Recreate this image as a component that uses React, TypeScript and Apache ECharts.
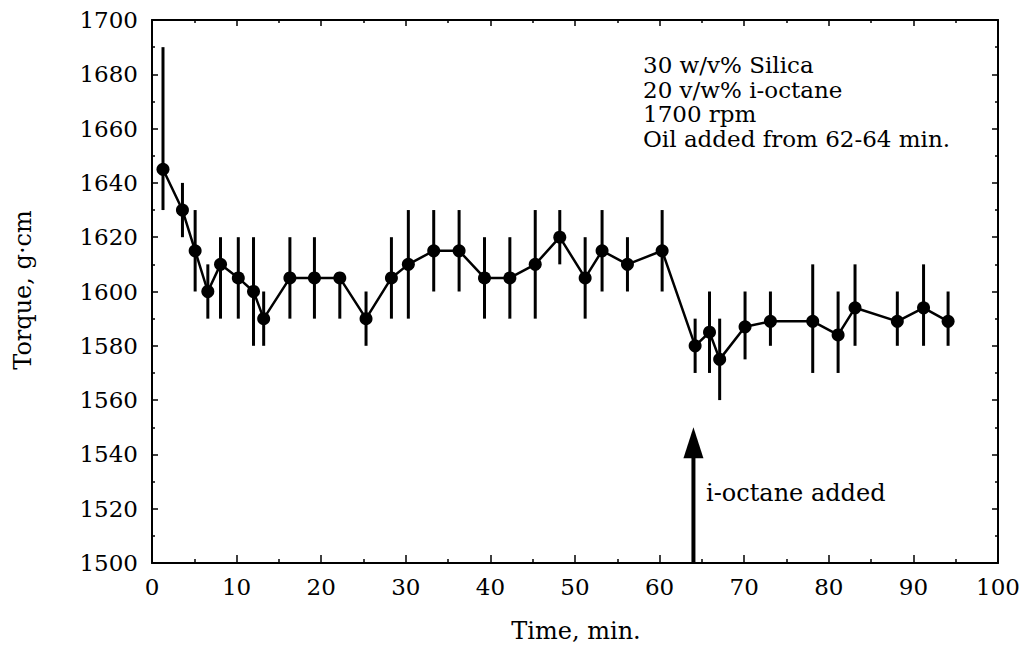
import React, { useEffect, useRef } from "react";
import * as echarts from "echarts";

// Time (min) of each measurement
const times = [1.3, 3.6, 5.1, 6.6, 8.1, 10.2, 12.0, 13.2, 16.3, 19.2, 22.2, 25.3, 28.3, 30.3, 33.3, 36.3, 39.3, 42.3, 45.3, 48.2, 51.2, 53.2, 56.2, 60.3, 64.2, 65.9, 67.1, 70.1, 73.1, 78.1, 81.1, 83.1, 88.1, 91.2, 94.1];
// Torque (g·cm)
const torque = [1645, 1630, 1615, 1600, 1610, 1605, 1600, 1590, 1605, 1605, 1605, 1590, 1605, 1610, 1615, 1615, 1605, 1605, 1610, 1620, 1605, 1615, 1610, 1615, 1580, 1585, 1575, 1587, 1589, 1589, 1584, 1594, 1589, 1594, 1589];
// Error bar lower / upper ends
const errLow = [1630, 1620, 1600, 1590, 1590, 1590, 1580, 1580, 1590, 1590, 1590, 1580, 1590, 1590, 1600, 1600, 1590, 1590, 1590, 1610, 1590, 1600, 1600, 1600, 1570, 1570, 1560, 1575, 1580, 1570, 1570, 1580, 1580, 1580, 1580];
const errHigh = [1690, 1640, 1630, 1610, 1620, 1620, 1620, 1600, 1620, 1620, 1605, 1600, 1620, 1630, 1630, 1630, 1620, 1620, 1630, 1630, 1620, 1630, 1620, 1630, 1590, 1600, 1590, 1600, 1600, 1610, 1600, 1610, 1600, 1610, 1600];

// Axis ranges
const X_MIN = 0, X_MAX = 100, X_STEP = 10;
const Y_MIN = 1500, Y_MAX = 1700, Y_STEP = 20;

// Arrow: i-octane added at 64 min
const arrowX = 64;
const arrowFrom = 1500;
const arrowTo = 1550;

const annotationLines = ["30 w/v% Silica", "20 v/w% i-octane", "1700 rpm", "Oil added from 62-64 min."];
const arrowLabel = "i-octane added";
const xTitle = "Time, min.";
const yTitle = "Torque, g\u00B7cm";

const FONT = "DejaVu Serif";

export default function App() {
  const ref = useRef<HTMLDivElement>(null);
  useEffect(() => {
    if (!ref.current) return;
    const chart = echarts.init(ref.current, null, { renderer: "svg" });
    const points = times.map((t, i) => [t, torque[i]]);
    const bars = times.map((t, i) => [t, errLow[i], errHigh[i]]);

    const axisCommon = {
      axisLine: { show: true, onZero: false, lineStyle: { color: "#000", width: 2 } },
      splitLine: { show: false },
      minorSplitLine: { show: false },
    };
    const plain = (v: number) => String(v);

    const option: any = {
      animation: false,
      backgroundColor: "#fff",
      grid: { left: 152, right: 26, top: 20, bottom: 89, containLabel: false },
      xAxis: [
        {
          type: "value", min: X_MIN, max: X_MAX, interval: X_STEP, position: "bottom",
          ...axisCommon,
          axisTick: { show: true, inside: true, length: 8, lineStyle: { color: "#000", width: 1.5 } },
          minorTick: { show: true, splitNumber: 2, length: 4, lineStyle: { color: "#000", width: 1.5 } },
          axisLabel: { show: true, color: "#000", fontFamily: FONT, fontSize: 23, margin: 12, formatter: plain },
        },
        {
          type: "value", min: X_MIN, max: X_MAX, interval: X_STEP, position: "top",
          ...axisCommon,
          axisTick: { show: true, inside: true, length: 6, lineStyle: { color: "#000", width: 1.5 } },
          minorTick: { show: true, splitNumber: 2, length: 3, lineStyle: { color: "#000", width: 1.5 } },
          axisLabel: { show: false },
        },
      ],
      yAxis: [
        {
          type: "value", min: Y_MIN, max: Y_MAX, interval: Y_STEP, position: "left",
          ...axisCommon,
          axisTick: { show: true, inside: true, length: 6, lineStyle: { color: "#000", width: 1.5 } },
          minorTick: { show: true, splitNumber: 2, length: 3, lineStyle: { color: "#000", width: 1.5 } },
          axisLabel: { show: true, color: "#000", fontFamily: FONT, fontSize: 23, margin: 14, formatter: plain },
        },
        {
          type: "value", min: Y_MIN, max: Y_MAX, interval: Y_STEP, position: "right",
          ...axisCommon,
          axisTick: { show: true, inside: true, length: 6, lineStyle: { color: "#000", width: 1.5 } },
          minorTick: { show: true, splitNumber: 2, length: 3, lineStyle: { color: "#000", width: 1.5 } },
          axisLabel: { show: false },
        },
      ],
      series: [
        {
          type: "custom",
          name: "error",
          xAxisIndex: 0,
          yAxisIndex: 0,
          data: bars,
          renderItem: (params: any, api: any) => {
            const p1 = api.coord([api.value(0), api.value(1)]);
            const p2 = api.coord([api.value(0), api.value(2)]);
            return {
              type: "line",
              shape: { x1: p1[0], y1: p1[1], x2: p2[0], y2: p2[1] },
              style: { stroke: "#000", lineWidth: 3 },
            };
          },
          z: 2,
        },
        {
          type: "line",
          name: "torque",
          xAxisIndex: 0,
          yAxisIndex: 0,
          data: points,
          symbol: "circle",
          symbolSize: 13,
          showSymbol: true,
          itemStyle: { color: "#000" },
          lineStyle: { color: "#000", width: 2.5 },
          z: 3,
        },
        {
          type: "custom",
          name: "arrow",
          xAxisIndex: 0,
          yAxisIndex: 0,
          clip: false,
          data: [[arrowX, arrowFrom, arrowTo]],
          renderItem: (params: any, api: any) => {
            const b = api.coord([api.value(0), api.value(1)]);
            const t = api.coord([api.value(0), api.value(2)]);
            const headLen = 31;
            const headHalf = 10;
            return {
              type: "group",
              children: [
                {
                  type: "line",
                  shape: { x1: b[0], y1: b[1], x2: t[0], y2: t[1] + headLen - 2 },
                  style: { stroke: "#000", lineWidth: 4 },
                },
                {
                  type: "polygon",
                  shape: { points: [[t[0], t[1]], [t[0] - headHalf, t[1] + headLen], [t[0] + headHalf, t[1] + headLen]] },
                  style: { fill: "#000" },
                },
              ],
            };
          },
          z: 4,
        },
      ],
      graphic: annotationLines.map((line, i) => ({
        type: "text",
        x: 643,
        y: 65 + i * 24.5,
        style: {
          text: line,
          fill: "#000",
          font: `23px "${FONT}"`,
          align: "left",
          verticalAlign: "middle",
        },
      })).concat([
        {
          type: "text",
          x: 706,
          y: 493,
          style: {
            text: arrowLabel,
            fill: "#000",
            font: `24px "${FONT}"`,
            align: "left",
            verticalAlign: "middle",
          },
        } as any,
        {
          type: "text",
          x: 576,
          y: 631,
          style: {
            text: xTitle,
            fill: "#000",
            font: `24px "${FONT}"`,
            align: "center",
            verticalAlign: "middle",
          },
        } as any,
        {
          type: "text",
          x: 23,
          y: 290,
          rotation: Math.PI / 2,
          style: {
            text: yTitle,
            fill: "#000",
            font: `24px "${FONT}"`,
            align: "center",
            verticalAlign: "middle",
          },
        } as any,
      ]),
    };
    chart.setOption(option);
    return () => chart.dispose();
  }, []);
  return (
    <div
      ref={ref}
      style={{ position: "fixed", left: 0, top: 0, width: 1024, height: 652, background: "#fff" }}
    />
  );
}
